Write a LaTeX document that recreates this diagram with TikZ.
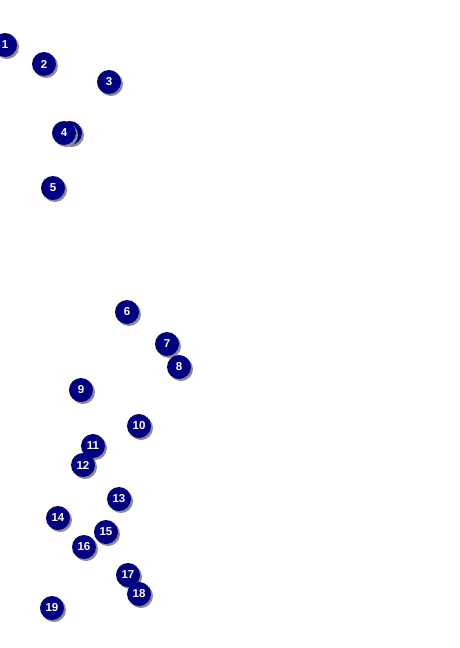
\documentclass[tikz,border=0pt]{standalone}
\usepackage{fontspec}
\setmainfont{Liberation Sans}
\definecolor{badge}{HTML}{000080}
\definecolor{shade}{HTML}{8C8C8C}
\tikzset{
  badge/.style={circle, fill=badge, minimum size=24pt, inner sep=0pt, text=white,
    font=\fontsize{11.5}{13}\selectfont\bfseries},
  badgeshadow/.style={circle, fill=shade, minimum size=24pt, inner sep=0pt}
}
\newcommand{\badgeat}[3]{%
  \node[badgeshadow] (s#1) at (#2+2,#3+2) {};
  \node[badge] (b#1) at (#2,#3) {#1};
}
\begin{document}
\begin{tikzpicture}[x=1pt,y=-1pt]
\useasboundingbox (0,0) rectangle (459,648);
\clip (0,0) rectangle (459,648);
\badgeat{1}{5}{45}
\badgeat{2}{44}{64}
\badgeat{3}{109}{82}
\node[badgeshadow] (s4b) at (72,135) {};
\node[badge] (b4b) at (70,133) {};
\badgeat{4}{64}{133}
\badgeat{5}{53}{188}
\badgeat{6}{127}{312}
\badgeat{7}{167}{344}
\badgeat{8}{179}{367}
\badgeat{9}{81}{390}
\badgeat{10}{139}{426}
\badgeat{11}{93}{446}
\badgeat{12}{83}{465}
\badgeat{13}{119}{499}
\badgeat{14}{58}{518}
\badgeat{15}{106}{532}
\badgeat{16}{84}{547}
\badgeat{17}{128}{575}
\badgeat{18}{139}{594}
\badgeat{19}{52}{608}
\end{tikzpicture}
\end{document}
